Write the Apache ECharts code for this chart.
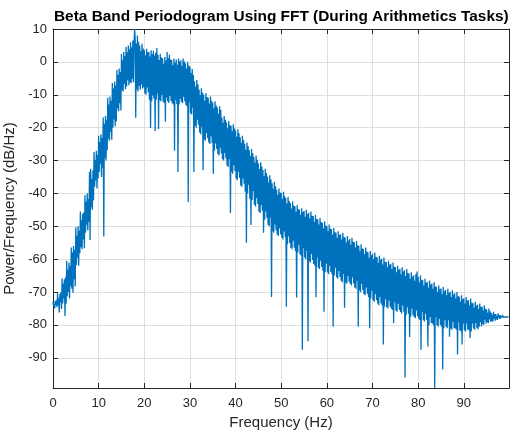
<!DOCTYPE html>
<html>
<head>
<meta charset="utf-8">
<script src="https://cdn.jsdelivr.net/npm/echarts@6/dist/echarts.min.js"></script>
<style>html,body{margin:0;padding:0;background:#fff}#c{width:510px;height:433px}</style>
</head>
<body>
<div id="c"></div>
<script>
// Frequency bins: 0.125 Hz spacing, 0 .. 99.875 Hz
const freqStep = 0.125;
// Power (dB/Hz), 80 bins per 10 Hz segment (8 per Hz)
const power0_10 = [
-72.9,-74.3,-73.6,-75.0,-72.7,-73.9,-72.5,-74.6,
-70.4,-74.0,-71.9,-76.2,-70.6,-73.1,-70.0,-75.2,
-65.9,-73.5,-67.4,-72.0,-66.1,-77.3,-65.5,-73.6,
-60.5,-71.4,-63.2,-70.0,-61.0,-72.0,-62.0,-68.2,
-56.5,-69.0,-58.0,-70.2,-56.0,-66.1,-57.2,-68.3,
-50.3,-61.8,-52.9,-59.6,-50.0,-62.0,-51.4,-58.2,
-45.5,-56.4,-48.1,-57.0,-46.2,-54.0,-45.8,-56.7,
-40.6,-52.0,-42.5,-49.5,-40.0,-51.3,-41.7,-48.6,
-33.4,-54.2,-32.5,-44.2,-35.6,-45.0,-33.0,-42.1,
-27.4,-38.0,-29.8,-36.1,-27.0,-38.5,-28.3,-35.4];
const power10_20 = [
-22.5,-33.6,-24.4,-31.0,-22.0,-35.0,-23.1,-32.2,
-16.9,-53.1,-18.8,-29.2,-16.5,-30.0,-17.6,-26.9,
-10.9,-23.4,-13.0,-24.0,-10.5,-21.3,-11.8,-23.7,
-6.4,-20.0,-8.1,-17.5,-6.0,-19.6,-7.2,-18.1,
-2.5,-14.2,-4.0,-15.0,-2.0,-12.6,-3.1,-14.8,
2.4,-8.6,0.6,-9.0,3.0,-6.7,1.8,-8.3,
4.5,-7.5,2.9,-5.6,5.0,-7.1,3.8,-6.2,
6.0,-6.5,4.4,-5.1,6.5,-6.2,5.3,10.0,
7.2,-17.0,5.6,-8.4,8.0,-9.0,6.1,-7.3,
5.0,-8.5,3.2,-6.9,5.5,-8.1,4.1,-7.7];
const power20_30 = [
3.6,-9.6,2.0,-10.0,4.0,-7.8,2.9,-9.3,
3.1,-11.5,1.6,-20.1,3.5,-12.0,2.4,-10.2,
3.4,-11.2,1.9,-21.0,2.8,-11.5,4.2,-9.6,
2.1,-20.4,0.6,-11.7,2.5,-12.0,1.3,-10.1,
1.1,-12.1,-0.6,-12.5,1.5,-18.2,0.4,-10.8,
3.0,-12.0,1.1,-12.5,2.2,-10.4,0.7,-11.9,
0.6,-12.6,-1.0,-13.0,1.0,-27.0,-0.2,-11.5,
0.7,-12.8,-0.9,-33.5,1.0,-13.0,0.1,-11.2,
0.5,-12.2,-1.2,-12.5,1.0,-10.6,0.2,-12.0,
-0.4,-13.1,-2.0,-13.5,0.0,-42.6,-1.1,-12.3];
const power30_40 = [
-1.5,-15.6,-3.4,-16.0,-2.2,-13.9,-4.0,-33.5,
-5.9,-19.4,-7.6,-20.0,-5.5,-17.6,-6.8,-19.1,
-8.4,-21.5,-10.1,-22.0,-8.0,-19.7,-9.3,-33.0,
-9.9,-23.6,-11.8,-24.0,-9.5,-21.6,-10.7,-23.2,
-10.9,-24.5,-12.7,-25.0,-10.5,-22.6,-11.8,-24.7,
-12.4,-34.0,-14.1,-27.0,-12.0,-24.8,-13.3,-26.5,
-13.9,-28.0,-15.8,-28.5,-13.5,-26.1,-14.6,-27.9,
-16.9,-29.6,-18.5,-30.0,-16.5,-27.7,-17.6,-29.3,
-18.4,-31.5,-20.2,-32.0,-18.0,-29.6,-19.3,-46.0,
-19.4,-33.5,-21.1,-34.0,-19.0,-31.4,-20.3,-33.2];
const power40_50 = [
-20.9,-35.5,-22.8,-36.0,-20.5,-33.4,-21.7,-35.3,
-22.9,-37.6,-24.6,-38.0,-22.5,-35.5,-23.8,-37.1,
-24.9,-39.5,-26.7,-55.0,-24.5,-40.0,-25.7,-37.4,
-26.9,-41.6,-28.6,-49.6,-26.5,-42.0,-27.8,-39.3,
-28.9,-43.5,-30.7,-44.0,-28.5,-41.4,-29.8,-43.2,
-30.9,-45.6,-32.6,-46.0,-30.5,-43.5,-31.8,-45.3,
-32.9,-52.0,-34.7,-48.0,-32.5,-45.5,-33.8,-47.4,
-34.9,-49.6,-36.6,-50.0,-34.5,-47.4,-35.8,-71.5,
-36.9,-51.5,-38.6,-52.0,-36.5,-49.5,-37.8,-51.2,
-38.9,-52.6,-40.5,-53.0,-38.5,-50.6,-39.7,-52.4];
const power50_60 = [
-39.9,-53.5,-41.6,-54.0,-39.5,-51.6,-40.8,-53.3,
-41.4,-74.5,-43.1,-55.5,-41.0,-53.0,-42.3,-55.1,
-42.9,-56.6,-44.6,-57.0,-42.5,-54.4,-43.8,-56.5,
-43.9,-57.5,-45.6,-71.7,-43.5,-58.0,-44.8,-55.6,
-44.9,-58.6,-46.5,-59.0,-44.5,-87.6,-45.7,-56.6,
-45.4,-59.5,-47.1,-60.0,-45.0,-57.5,-46.3,-85.0,
-45.9,-60.6,-47.6,-61.0,-45.5,-58.4,-46.8,-60.3,
-46.9,-61.5,-48.6,-62.0,-46.5,-71.6,-47.8,-59.5,
-47.9,-62.6,-49.5,-63.0,-47.5,-60.5,-48.7,-62.4,
-48.9,-63.5,-50.6,-76.0,-48.5,-64.0,-49.8,-61.4];
const power60_70 = [
-49.9,-64.1,-51.5,-64.5,-49.5,-62.0,-50.7,-63.9,
-50.9,-64.6,-52.6,-80.6,-50.5,-65.0,-51.8,-62.6,
-51.9,-65.5,-53.5,-66.0,-51.5,-63.6,-52.7,-65.4,
-52.4,-66.6,-54.0,-67.0,-52.0,-64.5,-53.3,-74.8,
-53.4,-67.1,-55.0,-67.5,-53.0,-65.1,-54.3,-66.9,
-53.9,-67.5,-55.6,-68.0,-53.5,-65.6,-54.7,-67.4,
-54.9,-68.6,-56.5,-69.0,-54.5,-66.6,-55.8,-80.6,
-55.9,-69.5,-57.6,-70.0,-55.5,-67.5,-56.8,-69.4,
-56.9,-70.6,-58.5,-71.0,-56.5,-68.6,-57.7,-70.5,
-57.9,-71.5,-59.6,-81.0,-57.5,-72.0,-58.8,-69.6];
const power70_80 = [
-58.4,-72.6,-60.0,-73.0,-58.0,-70.6,-59.3,-72.4,
-59.4,-73.5,-61.1,-74.0,-59.0,-71.5,-60.2,-73.5,
-59.9,-74.1,-61.6,-86.0,-59.5,-74.5,-60.8,-72.1,
-60.9,-74.6,-62.5,-75.0,-60.5,-72.6,-61.7,-74.5,
-61.4,-75.1,-63.0,-75.5,-61.0,-79.5,-62.3,-73.1,
-62.4,-75.6,-64.0,-76.0,-62.0,-73.6,-63.2,-75.4,
-62.9,-76.1,-64.6,-76.5,-62.5,-74.1,-63.8,-76.0,
-63.4,-96.0,-65.1,-77.0,-63.0,-74.6,-64.2,-76.6,
-64.4,-83.7,-66.0,-77.5,-64.0,-75.1,-65.3,-77.1,
-64.9,-77.6,-66.6,-78.0,-64.5,-75.6,-63.8,-77.4];
const power80_90 = [
-65.4,-78.1,-67.0,-78.5,-65.0,-87.6,-66.3,-76.1,
-66.4,-78.6,-68.0,-79.0,-66.0,-76.6,-67.2,-78.5,
-66.9,-86.6,-68.6,-80.0,-66.5,-77.6,-67.7,-79.4,
-67.4,-79.6,-69.0,-80.0,-67.0,-99.2,-68.3,-77.6,
-68.4,-80.1,-70.0,-80.5,-68.0,-78.1,-69.2,-80.0,
-68.9,-80.6,-70.6,-93.6,-68.5,-81.0,-69.8,-78.6,
-69.4,-80.6,-71.0,-81.0,-69.0,-78.6,-70.3,-83.6,
-69.9,-81.1,-71.5,-81.5,-69.5,-79.1,-70.8,-81.0,
-70.4,-81.1,-72.0,-81.5,-70.0,-89.0,-71.3,-79.1,
-71.4,-81.6,-73.0,-82.0,-71.0,-86.0,-72.2,-79.6];
const power90_100 = [
-71.9,-81.6,-73.5,-82.0,-71.5,-79.6,-72.7,-81.5,
-72.4,-81.6,-74.0,-84.0,-72.0,-82.0,-73.3,-79.6,
-73.4,-81.1,-74.8,-81.5,-73.0,-79.4,-74.1,-81.0,
-73.9,-81.3,-75.2,-80.6,-73.5,-79.2,-74.6,-80.5,
-74.4,-79.7,-75.6,-80.0,-74.0,-78.4,-75.1,-79.6,
-75.3,-79.2,-76.3,-79.5,-75.0,-78.3,-75.9,-79.1,
-76.3,-78.8,-77.0,-79.0,-76.0,-78.1,-76.7,-78.7,
-76.7,-78.3,-77.3,-78.5,-76.5,-77.9,-77.0,-78.2,
-77.1,-77.9,-77.4,-78.0,-77.0,-77.7,-77.3,-77.8,
-77.4,-77.6,-77.5,-77.7,-77.3,-77.6,-77.4,-77.5];

const xTicks = [0,10,20,30,40,50,60,70,80,90];
const yTicks = [-90,-80,-70,-60,-50,-40,-30,-20,-10,0,10];

const power = [].concat(power0_10, power10_20, power20_30, power30_40, power40_50,
  power50_60, power60_70, power70_80, power80_90, power90_100);
const seriesData = power.map((v, i) => [i * freqStep, v]);

const FONT = 'Liberation Sans, Arial, Helvetica, sans-serif';
const AX = '#262626';
const GRIDC = '#dfdfdf';

function xAxisCfg(pos, labels) {
  return {
    type: 'value', position: pos, min: 0, max: 99.9,
    axisLine: { show: true, onZero: false, lineStyle: { color: AX, width: 1 } },
    axisTick: { show: true, inside: true, length: 5, customValues: xTicks, lineStyle: { color: AX } },
    axisLabel: { show: labels, customValues: xTicks, color: AX, fontFamily: FONT, fontSize: 13, margin: 9 },
    splitLine: { show: labels, lineStyle: { color: GRIDC, width: 1 } },
    name: labels ? 'Frequency (Hz)' : '', nameLocation: 'middle', nameGap: 27,
    nameTextStyle: { color: AX, fontFamily: FONT, fontSize: 15, verticalAlign: 'top' }
  };
}
function yAxisCfg(pos, labels) {
  return {
    type: 'value', position: pos, min: -99.2, max: 10,
    axisLine: { show: true, onZero: false, lineStyle: { color: AX, width: 1 } },
    axisTick: { show: true, inside: true, length: 5, customValues: yTicks, lineStyle: { color: AX } },
    axisLabel: { show: labels, customValues: yTicks, color: AX, fontFamily: FONT, fontSize: 13, margin: 6 },
    splitLine: { show: labels, lineStyle: { color: GRIDC, width: 1 } },
    name: labels ? 'Power/Frequency (dB/Hz)' : '', nameLocation: 'middle', nameGap: 27, nameRotate: 90,
    nameTextStyle: { color: AX, fontFamily: FONT, fontSize: 15 }
  };
}

const chart = echarts.init(document.getElementById('c'), null, { renderer: 'canvas' });
chart.setOption({
  animation: false,
  backgroundColor: '#ffffff',
  title: {
    text: 'Beta Band Periodogram Using FFT (During Arithmetics Tasks)',
    left: 49, top: 4,
    textStyle: { fontFamily: FONT, fontSize: 15.4, fontWeight: 'bold', color: '#000000' }
  },
  grid: { left: 53, top: 29, right: 1, bottom: 45, containLabel: false, outerBoundsMode: 'none' },
  xAxis: [xAxisCfg('bottom', true), xAxisCfg('top', false)],
  yAxis: [yAxisCfg('left', true), yAxisCfg('right', false)],
  series: [{
    type: 'line', data: seriesData, xAxisIndex: 0, yAxisIndex: 0,
    showSymbol: false, symbol: 'none', sampling: null, clip: true,
    lineStyle: { color: '#0072BD', width: 1.3 }
  }]
});
</script>
</body>
</html>
